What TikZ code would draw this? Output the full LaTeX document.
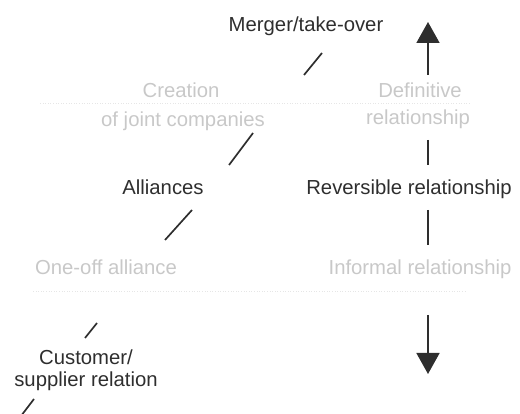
\documentclass[tikz,border=0pt]{standalone}
\usepackage{fontspec}
\setmainfont{Liberation Sans}
\usetikzlibrary{arrows.meta}
\definecolor{ink}{HTML}{2E2E2E}
\definecolor{faint}{HTML}{C8C8C8}
\begin{document}
\begin{tikzpicture}[x=1pt,y=-1pt,
  lbl/.style={font=\fontsize{20.3}{24}\selectfont, text=ink, inner sep=0pt, anchor=base},
  dim/.style={lbl, text=faint},
  bar/.style={draw=ink, line width=1.7pt},
  bigarrow/.style={bar, -{Triangle[width=23pt,length=21pt]}},
  rulerow/.style={draw=faint!45, dotted, line width=0.6pt}]
\useasboundingbox (0,0) rectangle (520,414);

% levels of cooperation (left column)
\node[lbl] (merger)     at (306,32)  {Merger/take-over};
\node[dim] (creationA)  at (181,98)  {Creation};
\node[dim] (creationB)  at (183,127) {of joint companies};
\node[lbl] (alliances)  at (163,195) {Alliances};
\node[dim] (oneoff)     at (106,275) {One-off alliance};
\node[lbl] (customerA)  at (86,365)  {Customer/};
\node[lbl] (customerB)  at (86,387)  {supplier relation};

% nature of the relationship (right column)
\node[dim] (definitiveA) at (420,98)  {Definitive};
\node[dim] (definitiveB) at (418,125) {relationship};
\node[lbl] (reversible)  at (409,195) {Reversible relationship};
\node[dim] (informal)    at (420,275) {Informal relationship};

% end points of the separators
\coordinate (s1a) at (304,75);  \coordinate (s1b) at (322,53);
\coordinate (s2a) at (229,165); \coordinate (s2b) at (253,133);
\coordinate (s3a) at (165,240); \coordinate (s3b) at (192,210);
\coordinate (s4a) at (85,338);  \coordinate (s4b) at (97,323);
\coordinate (s5a) at (21,416);  \coordinate (s5b) at (34,399);
\coordinate (v1a) at (428,140); \coordinate (v1b) at (428,165);
\coordinate (v2a) at (428,210); \coordinate (v2b) at (428,245);
\coordinate (upfoot)   at (428,75);  \coordinate (uptip)   at (428,22);
\coordinate (downfoot) at (428,315); \coordinate (downtip) at (428,374);
\coordinate (r1a) at (40,103);  \coordinate (r1b) at (470,103);
\coordinate (r2a) at (33,291);  \coordinate (r2b) at (467,291);

% faint dotted row rules
\draw[rulerow] (r1a) -- (r1b);
\draw[rulerow] (r2a) -- (r2b);

% diagonal separators on the left
\draw[bar] (s1a) -- (s1b);
\draw[bar] (s2a) -- (s2b);
\draw[bar] (s3a) -- (s3b);
\draw[bar] (s4a) -- (s4b);
\draw[bar] (s5a) -- (s5b);

% vertical separators and arrows on the right
\draw[bar] (v1a) -- (v1b);
\draw[bar] (v2a) -- (v2b);
\draw[bigarrow] (upfoot) -- (uptip);
\draw[bigarrow] (downfoot) -- (downtip);
\end{tikzpicture}
\end{document}
